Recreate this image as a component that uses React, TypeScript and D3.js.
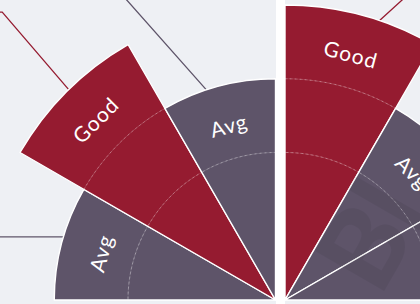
import * as d3 from "d3";

// ratings per 30° sector
const LEFT_RATINGS = ["Avg", "Good", "Avg"];
const LEFT_SCORES = [3, 4, 3];
const RIGHT_RATINGS = ["Good", "Avg", "Avg"];
const RIGHT_SCORES = [4, 3, 3];
const GRID_LEVELS = [2, 3];
const MAX_SCORE = 4;

const COLORS: Record<string, string> = { Good: "#951b30", Avg: "#5e5469" };
const BG = "#eef0f4";

const W = 420, H = 304;
const STEP = Math.PI / 6;
const deg = (d: number) => (d * Math.PI) / 180;
const polar = (a: number, r: number): [number, number] => [r * Math.sin(a), -r * Math.cos(a)];

const rScale = d3.scaleLinear().domain([0, MAX_SCORE]).range([0, 295]);

// leader line layout: start angle tweak, bend point (angle, radius), horizontal run
const LEFT_LEADERS = [
  { i: 0, da: 1.6, bendA: null as number | null, bendR: 0, run: -120 },
  { i: 1, da: 0.5, bendA: -43.5, bendR: 397, run: -40 },
  { i: 2, da: -3.2, bendA: -28, bendR: 374, run: -40 },
];
const RIGHT_LEADERS = [{ i: 0, da: 3.7, bendA: 24.4, bendR: 362, run: 40 }];

type Panel = {
  id: string;
  x0: number;
  x1: number;
  cx: number;
  start: number;
  ratings: string[];
  scores: number[];
  leaders: typeof LEFT_LEADERS;
};

const PANELS: Panel[] = [
  { id: "l", x0: 0, x1: 276, cx: 275.5, start: -Math.PI / 2, ratings: LEFT_RATINGS, scores: LEFT_SCORES, leaders: LEFT_LEADERS },
  { id: "r", x0: 285, x1: 420, cx: 285, start: 0, ratings: RIGHT_RATINGS, scores: RIGHT_SCORES, leaders: RIGHT_LEADERS },
];
const CY = 300;

function PolarPanel({ p }: { p: Panel }) {
  const arc = d3.arc<any>();
  const sectors = p.scores.map((s, i) => ({
    rating: p.ratings[i],
    a0: p.start + i * STEP,
    a1: p.start + (i + 1) * STEP,
    r: rScale(s),
  }));
  return (
    <g>
      <clipPath id={`clip-${p.id}`}>
        <rect x={p.x0} y={0} width={p.x1 - p.x0} height={H} />
      </clipPath>
      <rect x={p.x0} y={0} width={p.x1 - p.x0} height={H} fill={BG} />
      <g clipPath={`url(#clip-${p.id})`}>
        <g transform={`translate(${p.cx},${CY})`}>
          {p.leaders.map((l, k) => {
            const s = sectors[l.i];
            const a = (s.a0 + s.a1) / 2 + deg(l.da);
            const p1 = polar(a, s.r);
            const p2 = l.bendA == null ? p1 : polar(deg(l.bendA), l.bendR);
            const p3: [number, number] = [p2[0] + l.run, p2[1]];
            return (
              <path key={k} d={d3.line()([p1, p2, p3]) ?? ""} fill="none"
                stroke={COLORS[s.rating]} strokeWidth={1.3} />
            );
          })}
          {sectors.map((s, i) => (
            <path key={i}
              d={arc({ innerRadius: 0, outerRadius: s.r, startAngle: s.a0, endAngle: s.a1 }) ?? ""}
              fill={COLORS[s.rating]} stroke="#fff" strokeWidth={1.4} strokeLinejoin="round" />
          ))}
          {sectors.map((s, i) =>
            GRID_LEVELS.filter(v => rScale(v) < s.r - 1).map(v => (
              <path key={`${i}-${v}`}
                d={d3.arc<any>()({ innerRadius: rScale(v), outerRadius: rScale(v), startAngle: s.a0, endAngle: s.a1 }) ?? ""}
                fill="none" stroke="#fff" strokeOpacity={0.3} strokeWidth={0.8} strokeDasharray="3,2" />
            ))
          )}
          {sectors.map((s, i) => {
            const a = (s.a0 + s.a1) / 2;
            const [x, y] = polar(a, s.r - 40);
            return (
              <text key={i} x={x} y={y} transform={`rotate(${(a * 180) / Math.PI},${x},${y})`}
                textAnchor="middle" dominantBaseline="central" fill="#fff"
                fontFamily="Lato, 'Noto Sans', sans-serif" fontSize={21} letterSpacing={1}>
                {s.rating}
              </text>
            );
          })}
        </g>
        {p.id === "r" && (
          <text x={405} y={255} transform="rotate(-60,405,255)" textAnchor="middle"
            fontFamily="Lato, sans-serif" fontWeight={900} fontSize={110} fill="#000" fillOpacity={0.06}>
            Bl
          </text>
        )}
      </g>
    </g>
  );
}

export default function App() {
  return (
    <div style={{ position: "absolute", left: 0, top: 0, width: W, height: H, background: "#fff" }}>
      <svg width={W} height={H} style={{ display: "block" }}>
        <rect width={W} height={H} fill="#fff" />
        {PANELS.map(p => <PolarPanel key={p.id} p={p} />)}
      </svg>
    </div>
  );
}
